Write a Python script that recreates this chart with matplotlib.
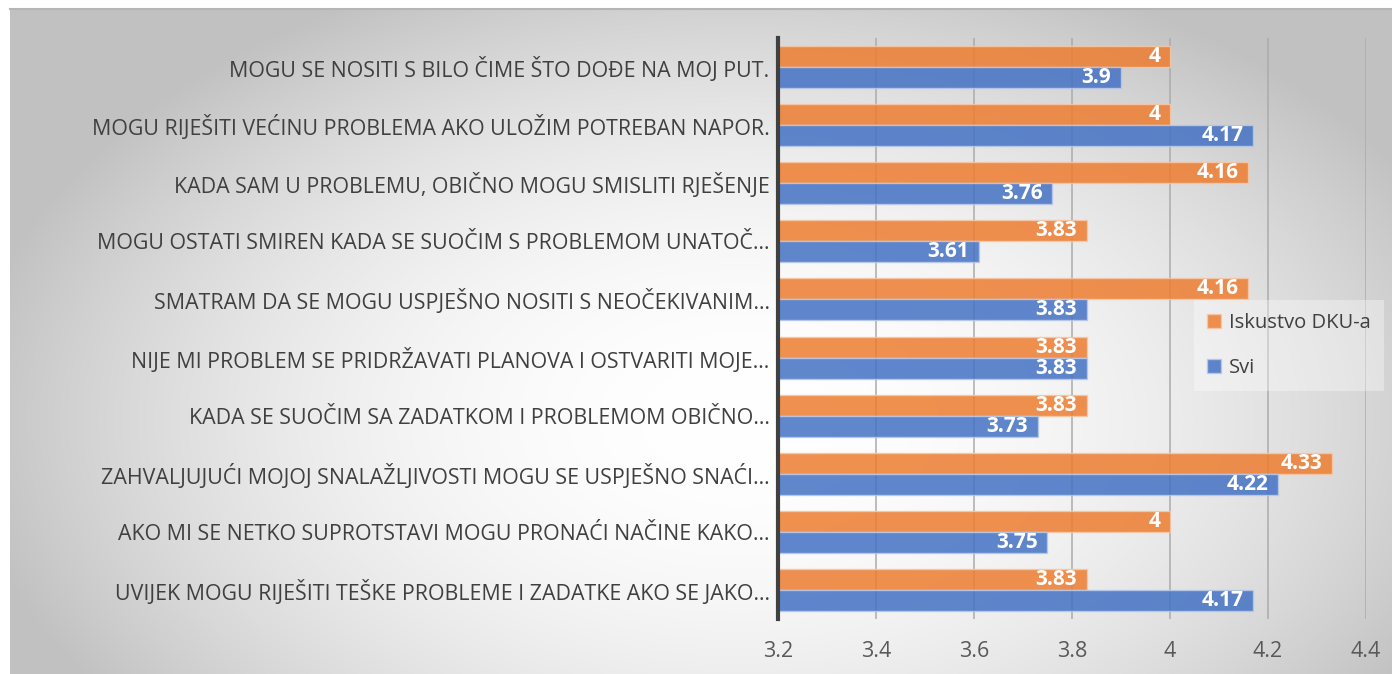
import numpy as np
import matplotlib
matplotlib.use("Agg")
import matplotlib.pyplot as plt

plt.rcParams['font.family'] = ['Open Sans', 'DejaVu Sans']

# Data (top to bottom as shown)
categories = [
    "MOGU SE NOSITI S BILO ČIME ŠTO DOĐE NA MOJ PUT.",
    "MOGU RIJEŠITI VEĆINU PROBLEMA AKO ULOŽIM POTREBAN NAPOR.",
    "KADA SAM U PROBLEMU, OBIČNO MOGU SMISLITI RJEŠENJE",
    "MOGU OSTATI SMIREN KADA SE SUOČIM S PROBLEMOM UNATOČ…",
    "SMATRAM DA SE MOGU USPJEŠNO NOSITI S NEOČEKIVANIM…",
    "NIJE MI PROBLEM SE PRIDRŽAVATI PLANOVA I OSTVARITI MOJE…",
    "KADA SE SUOČIM SA ZADATKOM I PROBLEMOM OBIČNO…",
    "ZAHVALJUJUĆI MOJOJ SNALAŽLJIVOSTI MOGU SE USPJEŠNO SNAĆI…",
    "AKO MI SE NETKO SUPROTSTAVI MOGU PRONAĆI NAČINE KAKO…",
    "UVIJEK MOGU RIJEŠITI TEŠKE PROBLEME I ZADATKE AKO SE JAKO…",
]
iskustvo = [4, 4, 4.16, 3.83, 4.16, 3.83, 3.83, 4.33, 4, 3.83]
svi = [3.9, 4.17, 3.76, 3.61, 3.83, 3.83, 3.73, 4.22, 3.75, 4.17]
series_names = ["Iskustvo DKU-a", "Svi"]
x_ticks = [3.2, 3.4, 3.6, 3.8, 4.0, 4.2, 4.4]
x_tick_labels = ["3.2", "3.4", "3.6", "3.8", "4", "4.2", "4.4"]

W, H = 1392, 674
fig = plt.figure(figsize=(W / 100, H / 100), dpi=100)
fig.patch.set_facecolor("white")

# radial gradient background
bg = fig.add_axes([10 / W, 0, 1 - 10 / W, 1 - 9 / H], zorder=-10)
nx, ny = 400, 200
xs = np.linspace(10, W, nx)
ys = np.linspace(9, H, ny)
X, Y = np.meshgrid(xs, ys)
d = np.sqrt(((X - 740) / 760) ** 2 + ((Y - 420) / 470) ** 2)
val = 1.0 - 0.23 * np.clip(d, 0, 1.3) ** 2
val = np.clip(val, 0.76, 1.0)
img = np.dstack([val, val, val])
bg.imshow(img, aspect="auto", extent=[0, 1, 0, 1], origin="upper", interpolation="bilinear")
bg.plot([0, 1], [1, 1], color="#b5b5b5", lw=1.5, transform=bg.transAxes, clip_on=False)
bg.set_axis_off()

ax = fig.add_axes([778 / W, 1 - 619 / H, (1366 - 778) / W, (619 - 38) / H])
ax.patch.set_alpha(0)

y = np.arange(len(categories))
h = 0.362
orange = "#ED7D31"
blue = "#4472C4"
ax.barh(y - h / 2, iskustvo, height=h, color=orange, alpha=0.85,
        edgecolor="#f6c8a8", linewidth=1.0, label=series_names[0], zorder=2)
ax.barh(y + h / 2, svi, height=h, color=blue, alpha=0.85,
        edgecolor="#b9c9ea", linewidth=1.0, label=series_names[1], zorder=2)

for yy, v in zip(y - h / 2, iskustvo):
    ax.annotate(f"{v:g}", (v, yy), xytext=(-7, 0), textcoords="offset points",
                ha="right", va="center", color="white", fontsize=15, fontweight="bold", zorder=3)
for yy, v in zip(y + h / 2, svi):
    ax.annotate(f"{v:g}", (v, yy), xytext=(-7, 0), textcoords="offset points",
                ha="right", va="center", color="white", fontsize=15, fontweight="bold", zorder=3)

ax.set_xlim(3.2, 4.4)
ax.set_ylim(len(categories) - 0.5, -0.5)
ax.set_xticks(x_ticks)
ax.set_xticklabels(x_tick_labels, fontsize=15.5, color="#595959")
ax.set_yticks(y)
ax.set_yticklabels(categories, fontsize=15.4, color="#404040")
ax.tick_params(axis="x", length=0, pad=16)
ax.tick_params(axis="y", length=0, pad=6)
ax.xaxis.grid(True, color="#ababab", lw=1.1, zorder=1)
ax.set_axisbelow(True)
for s in ["top", "right", "bottom"]:
    ax.spines[s].set_visible(False)
ax.spines["left"].set_color("#404040")
ax.spines["left"].set_linewidth(3)
ax.spines["left"].set_zorder(4)

leg = ax.legend(loc="upper left", bbox_to_anchor=(1194 / W, 1 - 300 / H),
                bbox_transform=fig.transFigure, frameon=True, fontsize=14.5,
                handlelength=0.7, handleheight=0.7, handletextpad=0.4,
                labelspacing=1.25, borderpad=0.65, borderaxespad=0,
                fancybox=False)
leg.get_frame().set_facecolor("white")
leg.get_frame().set_alpha(0.35)
leg.get_frame().set_edgecolor("none")
for t in leg.get_texts():
    t.set_color("#404040")

fig.savefig("out.png", dpi=100)
